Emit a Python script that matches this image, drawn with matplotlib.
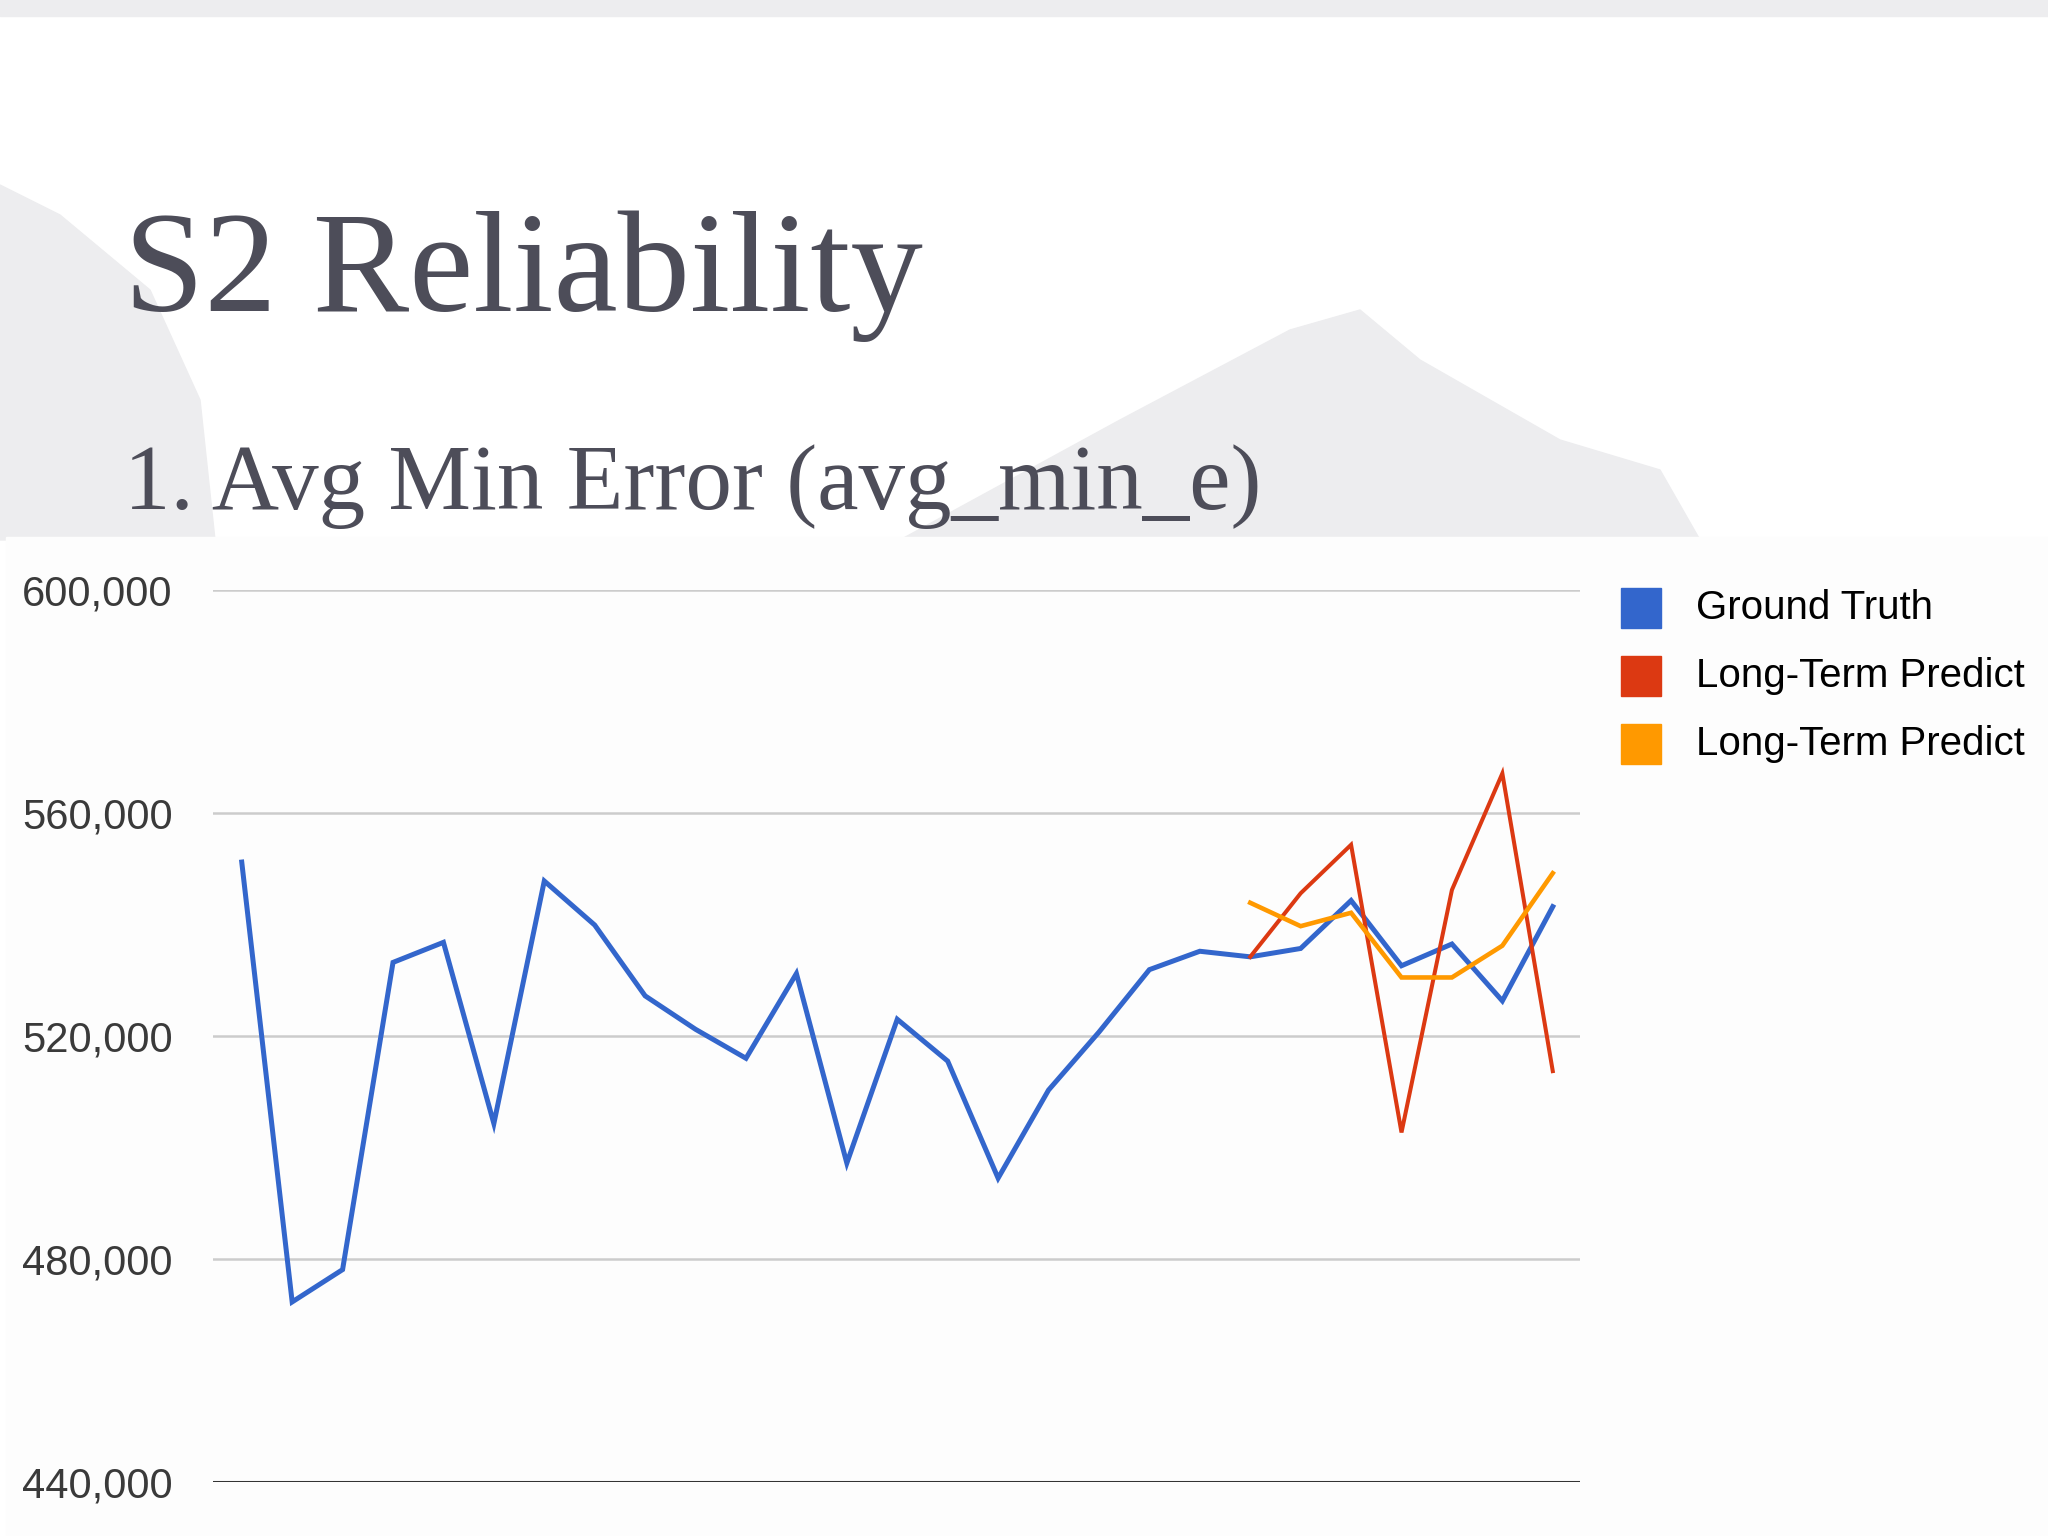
import matplotlib
matplotlib.use("Agg")
import matplotlib.pyplot as plt
from matplotlib.patches import Polygon, Rectangle
from matplotlib.ticker import FuncFormatter

# ---------------- data ----------------
ground_truth = [551.2, 472.3, 478.1, 533.2, 536.8, 504.3, 547.8, 539.9, 527.2,
                521.2, 516.0, 531.2, 497.2, 523.0, 515.5, 494.5, 510.3, 520.7,
                531.9, 535.2, 534.2, 535.7, 544.3, 532.6, 536.5, 526.3, 543.2]
long_term_red = [534.2, 545.6, 554.3, 502.7, 546.2, 567.1, 513.7]
long_term_orange = [543.9, 539.7, 542.1, 530.5, 530.5, 536.2, 549.2]
pred_start = 20
series_names = ["Ground Truth", "Long-Term Predict", "Long-Term Predict"]
y_ticks = [440, 480, 520, 560, 600]

title = "S2 Reliability"
subtitle = "1. Avg Min Error (avg_min_e)"

colors = ["#3366cc", "#dc3912", "#ff9900"]

# ---------------- figure ----------------
W, H = 2048, 1536
fig = plt.figure(figsize=(W / 100, H / 100), dpi=100)
fig.patch.set_facecolor("white")

def fx(px):
    return px / W

def fy(py):
    return 1 - py / H

# decorative slide background (light grey brush strokes)
bg = "#ededef"
fig.patches.append(Rectangle((0, fy(16)), 1, fy(0) - fy(16), transform=fig.transFigure,
                             color=bg, zorder=-10))
left_stroke = [(0, 185), (60, 215), (150, 290), (200, 400), (215, 540), (0, 540)]
fig.patches.append(Polygon([(fx(x), fy(y)) for x, y in left_stroke], closed=True,
                           transform=fig.transFigure, color=bg, zorder=-10))
mid_stroke = [(900, 540), (1120, 420), (1290, 330), (1360, 310), (1420, 360),
              (1560, 440), (1660, 470), (1700, 540)]
fig.patches.append(Polygon([(fx(x), fy(y)) for x, y in mid_stroke], closed=True,
                           transform=fig.transFigure, color=bg, zorder=-10))
# chart screenshot area
fig.patches.append(Rectangle((fx(6), 0), fx(W - 6), fy(537), transform=fig.transFigure,
                             color="#fdfdfd", zorder=-9))

fig.text(fx(124), fy(311), title, fontsize=104, family="Liberation Serif",
         color="#4d4d59", ha="left", va="baseline")
fig.text(fx(124), fy(509), subtitle, fontsize=67, family="Liberation Serif",
         color="#4d4d59", ha="left", va="baseline")

# ---------------- axes ----------------
left, right = 213, 1580
top, bottom = 590, 1482
ax = fig.add_axes([fx(left), fy(bottom), fx(right - left), fy(top) - fy(bottom)])
ax.set_facecolor("none")

x_all = list(range(len(ground_truth)))
x_pred = list(range(pred_start, pred_start + len(long_term_red)))

ax.plot(x_all, ground_truth, color=colors[0], lw=3.6, solid_joinstyle="miter", zorder=3)
ax.plot(x_pred, long_term_red, color=colors[1], lw=2.9, solid_joinstyle="miter", zorder=4)
ax.plot(x_pred, long_term_orange, color=colors[2], lw=3.3, solid_joinstyle="miter", zorder=4)

ax.set_xlim(-0.57, len(ground_truth) - 0.46)
ax.set_ylim(y_ticks[0], y_ticks[-1])
ax.set_yticks(y_ticks)
ax.yaxis.set_major_formatter(FuncFormatter(lambda v, p: f"{int(v * 1000):,}"))
ax.set_xticks([])
for t in y_ticks[1:]:
    ax.axhline(t, color="#cccccc", lw=1.8, zorder=1)
ax.axhline(y_ticks[0], color="#333333", lw=2.2, zorder=2)
for s in ax.spines.values():
    s.set_visible(False)
ax.tick_params(axis="y", length=0, pad=29, labelsize=30, labelcolor="#3a3a3a")
for lab in ax.get_yticklabels():
    lab.set_family("Liberation Sans")

# ---------------- legend ----------------
leg_x = 1621
leg_y0 = 608
leg_dy = 68
sq = 40
for i, (name, c) in enumerate(zip(series_names, colors)):
    yc = leg_y0 + i * leg_dy
    fig.patches.append(Rectangle((fx(leg_x), fy(yc + sq / 2)), fx(sq), fy(0) - fy(sq),
                                 transform=fig.transFigure, color=c, zorder=5))
    fig.text(fx(1696), fy(yc), name, fontsize=29, family="Liberation Sans",
             color="black", ha="left", va="center")

fig.savefig("out.png", dpi=100, facecolor=fig.get_facecolor())
